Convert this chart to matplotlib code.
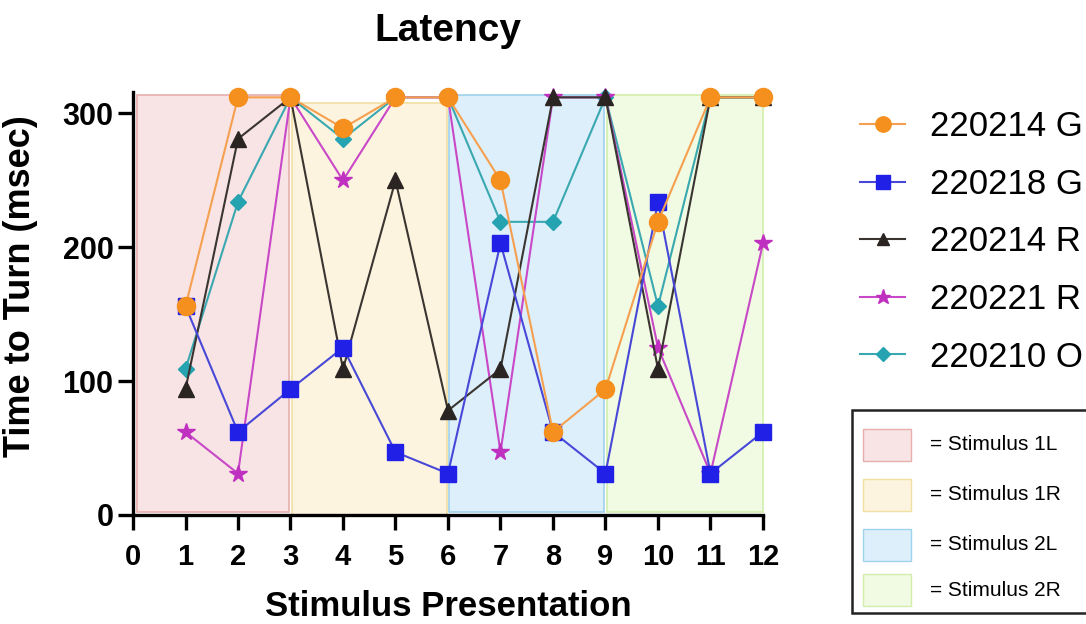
import matplotlib.pyplot as plt
from matplotlib.patches import Rectangle
from matplotlib.lines import Line2D

plt.rcParams['font.family'] = ['Liberation Sans', 'DejaVu Sans']

# données
presentation = [1, 2, 3, 4, 5, 6, 7, 8, 9, 10, 11, 12]
noms = ["220214 G", "220218 G", "220214 R", "220221 R", "220210 O"]
g_220214 = [156, 312, 312, 289, 312, 312, 250, 62, 94, 219, 312, 312]
g_220218 = [156, 62, 94, 125, 47, 31, 203, 62, 31, 234, 31, 62]
r_220214 = [94, 281, 312, 109, 250, 78, 109, 312, 312, 109, 312, 312]
r_220221 = [62, 31, 312, 250, 312, 312, 47, 312, 312, 125, 31, 203]
o_220210 = [109, 234, 312, 281, 312, 312, 219, 219, 312, 156, 312, 312]

stim_noms = ["Stimulus 1L", "Stimulus 1R", "Stimulus 2L", "Stimulus 2R"]
stim_debut = [0, 3, 6, 9]
stim_fin = [3, 6, 9, 12]

couleurs = ["#F5901E", "#2020E6", "#2A2522", "#C030C0", "#25A3B0"]
lignes = ["#F5A050", "#4848D8", "#3A3530", "#C848C8", "#3AA8B0"]
marqueurs = ["o", "s", "^", "*", "D"]
tailles = [13, 12, 11, 13, 8]
fonds = ["#F8E4E4", "#FDF4E0", "#DDEFFA", "#F1FAE2"]
bords = ["#E8AEAE", "#F2DFA2", "#9FD2EC", "#D2EEAC"]

series = [g_220214, g_220218, r_220214, r_220221, o_220210]

fig = plt.figure(figsize=(10.86, 6.24), dpi=100)
ax = fig.add_axes([133/1086, 109/624, 630/1086, 423/624])

# zones de stimulus
for i in range(4):
    x0 = stim_debut[i] + (0.08 if i == 0 else 0.02)
    x1 = stim_fin[i] - (0.02 if i < 3 else 0)
    haut = 308 if i == 1 else 313.5
    bas = -1 if i == 1 else 2
    ax.add_patch(Rectangle((x0, bas), x1 - x0, haut - bas, facecolor=fonds[i],
                           edgecolor=bords[i], lw=1.2, zorder=0, clip_on=False))

# courbes, dessinées de la dernière à la première
for i in reversed(range(5)):
    ax.plot(presentation, series[i], color=lignes[i], lw=1.5,
            marker=marqueurs[i], markersize=tailles[i],
            markerfacecolor=couleurs[i], markeredgecolor=couleurs[i],
            clip_on=False, zorder=3 + (5 - i))

ax.set_xlim(0, 12)
ax.set_ylim(0, 316)
ax.set_xticks(range(13))
ax.set_yticks([0, 100, 200, 300])
for s in ["top", "right"]:
    ax.spines[s].set_visible(False)
for s in ["left", "bottom"]:
    ax.spines[s].set_linewidth(2.4)
ax.tick_params(width=2.4, length=11)
ax.tick_params(axis="x", pad=9, labelsize=21)
ax.tick_params(axis="y", pad=3, labelsize=22)
for t in ax.get_xticklabels() + ax.get_yticklabels():
    t.set_fontweight("bold")

ax.set_title("Latency", fontsize=28, fontweight="bold", pad=37)
ax.set_xlabel("Stimulus Presentation", fontsize=25, fontweight="bold")
ax.set_ylabel("Time to Turn (msec)", fontsize=26, fontweight="bold")
ax.xaxis.set_label_coords(0.5, -0.178)
ax.yaxis.set_label_coords(-0.151, 0.54)

leg_h = [Line2D([], [], color=lignes[i], lw=1.5, marker=marqueurs[i],
                markersize=tailles[i] * 0.85, markerfacecolor=couleurs[i],
                markeredgecolor=couleurs[i]) for i in range(5)]
fig.legend(leg_h, noms, loc="upper left", bbox_to_anchor=(860/1086, 1 - 110/624),
           frameon=False, fontsize=25, borderpad=0, borderaxespad=0,
           labelspacing=0.71, handlelength=1.3, handletextpad=0.72)

# encadré des stimuli
fig.add_artist(Rectangle((852/1086, 1 - 613/624), 260/1086, 203/624,
                         transform=fig.transFigure, facecolor="white",
                         edgecolor="#222222", lw=1.8, clip_on=False))
centres = [445, 495, 545, 590]
for i in range(4):
    yc = 1 - centres[i]/624
    fig.add_artist(Rectangle((863/1086, yc - 16/624), 48/1086, 32/624,
                             transform=fig.transFigure, facecolor=fonds[i],
                             edgecolor=bords[i], lw=1.0))
    fig.text(930/1086, yc, "= " + stim_noms[i], fontsize=15, va="center", ha="left")

fig.savefig("out.png", dpi=100)
